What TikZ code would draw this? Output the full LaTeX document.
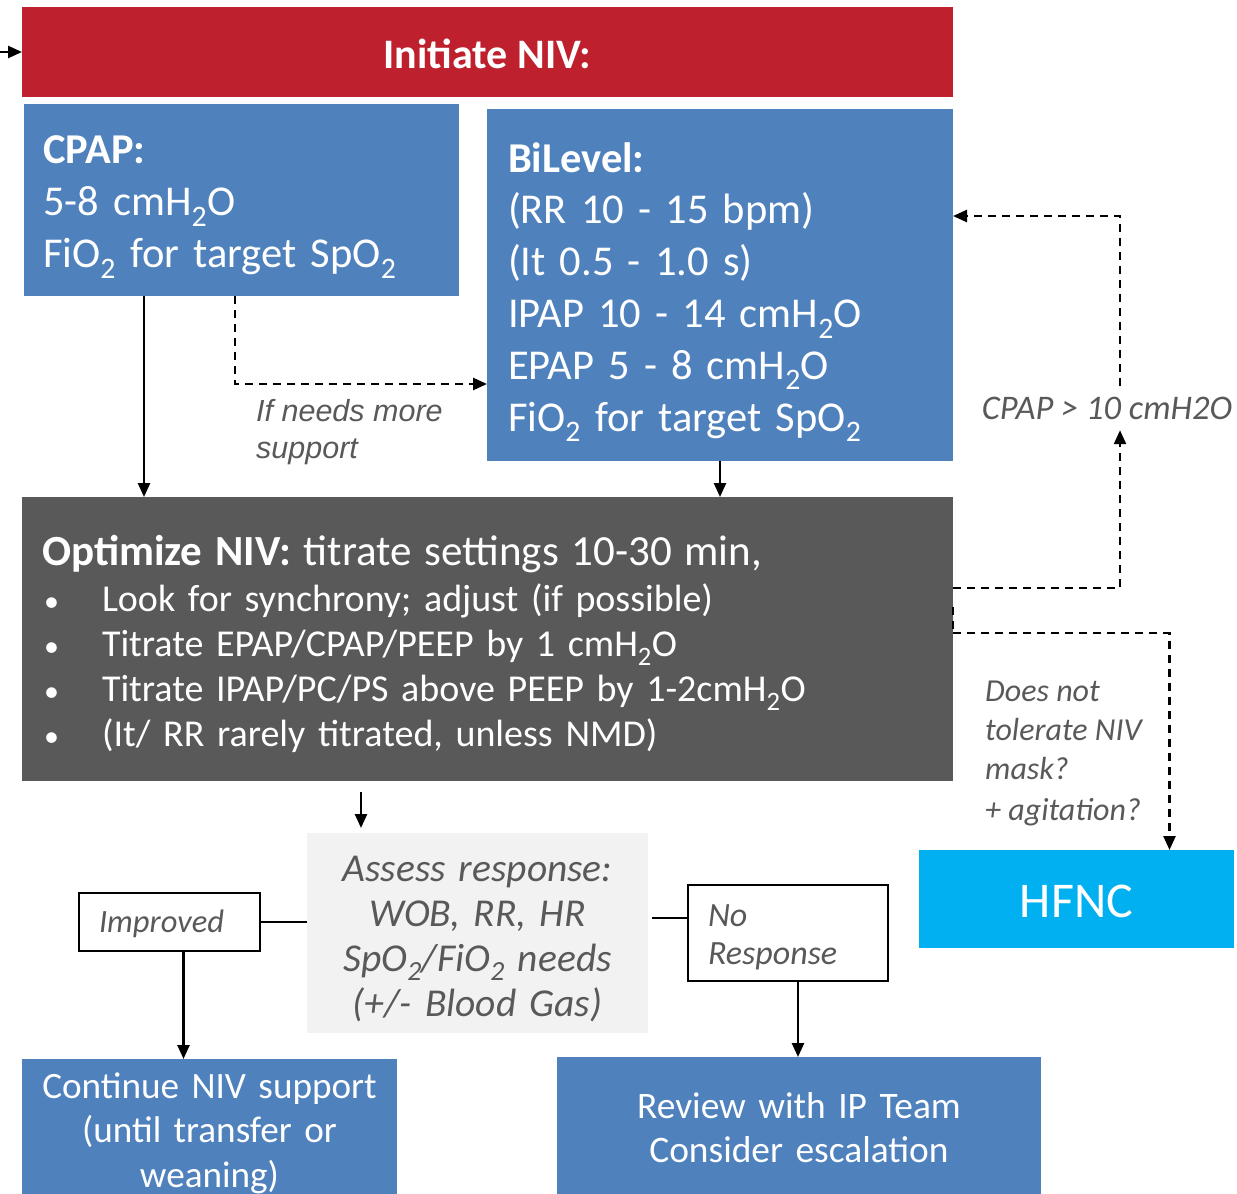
\documentclass[tikz,border=0pt]{standalone}
\usepackage{fontspec}
\setmainfont{Carlito}
\newfontfamily\arialfont{Liberation Sans}
\usetikzlibrary{arrows.meta}

\definecolor{nivred}{RGB}{190,32,45}
\definecolor{nivblue}{RGB}{79,129,189}
\definecolor{nivdark}{RGB}{89,89,89}
\definecolor{nivcyan}{RGB}{0,176,240}
\definecolor{nivlight}{RGB}{242,242,242}
\definecolor{labelgray}{RGB}{89,89,89}

\newcommand{\sub}[1]{\textsubscript{#1}}
\newcommand{\bulletitem}{\hspace*{2pt}\makebox[58pt][l]{\fontsize{30}{30}\selectfont\textbullet}}

\tikzset{
  boxbase/.style={rectangle, inner sep=0pt, outer sep=0pt, anchor=north west},
  bluebox/.style={boxbase, fill=nivblue},
  boxtext/.style={inner sep=0pt, anchor=center},
  conn/.style={line width=2.5pt, draw=black},
  arr/.style={conn, -{Triangle[length=14pt,width=12pt]}},
  darr/.style={conn, dash pattern=on 8pt off 6pt, -{Triangle[length=14pt,width=12pt]}},
  dline/.style={conn, dash pattern=on 8pt off 6pt},
  framebox/.style={boxbase, draw=black, line width=2pt, fill=white},
  lbl/.style={text=labelgray, inner sep=0pt, align=left, anchor=north west},
}

\begin{document}
\begin{tikzpicture}[x=1pt,y=-1pt]
\useasboundingbox (0,0) rectangle (1237,1194);

% ---- Boxes ----
\node[boxbase, fill=nivred, minimum width=931pt, minimum height=90pt] (init) at (22,7) {};
\node[bluebox, minimum width=435pt, minimum height=192pt] (cpap) at (24,104) {};
\node[bluebox, minimum width=466pt, minimum height=352pt] (bilevel) at (487,109) {};
\node[boxbase, fill=nivdark, minimum width=931pt, minimum height=284pt] (opt) at (22,497) {};
\node[boxbase, fill=nivlight, minimum width=341pt, minimum height=200pt] (assess) at (307,833) {};
\node[framebox, minimum width=181pt, minimum height=58pt] (improved) at (79,893) {};
\node[framebox, minimum width=200pt, minimum height=96pt] (noresp) at (688,885) {};
\node[bluebox, minimum width=375pt, minimum height=142pt] (cont) at (22,1059) {};
\node[bluebox, minimum width=484pt, minimum height=137pt] (review) at (557,1057) {};
\node[boxbase, fill=nivcyan, minimum width=315pt, minimum height=98pt] (hfnc) at (919,850) {};

% ---- Box texts ----
\node[boxtext, text=white, font=\fontsize{42}{48}\selectfont\bfseries]
  (inittxt) at ([yshift=-2pt]init.center) {Initiate NIV:};

\node[boxtext, text=white, text width=397pt, align=left, font=\fontsize{42.5}{52}\selectfont]
  (cpaptxt) at ([yshift=-7pt]cpap.center)
  {\textbf{CPAP:}\\5-8 cmH\sub{2}O\\FiO\sub{2} for target SpO\sub{2}};

\node[boxtext, text=white, text width=424pt, align=left, font=\fontsize{42.5}{51.8}\selectfont]
  (biltxt) at ([yshift=-7pt]bilevel.center)
  {\textbf{BiLevel:}\\(RR 10 - 15 bpm)\\(It 0.5 - 1.0 s)\\IPAP 10 - 14 cmH\sub{2}O\\EPAP 5 - 8 cmH\sub{2}O\\FiO\sub{2} for target SpO\sub{2}};

\node[boxtext, text=white, text width=891pt, align=left, font=\fontsize{38}{45}\selectfont]
  (opttxt) at ([yshift=-5pt]opt.center)
  {{\fontsize{43}{45}\selectfont\textbf{Optimize NIV:} titrate settings 10-30 min,}\\[1pt]
   \bulletitem Look for synchrony; adjust (if possible)\\
   \bulletitem Titrate EPAP/CPAP/PEEP by 1 cmH\sub{2}O\\
   \bulletitem Titrate IPAP/PC/PS above PEEP by 1-2cmH\sub{2}O\\
   \bulletitem (It/ RR rarely titrated, unless NMD)};

\node[boxtext, text=labelgray, text width=341pt, align=center, font=\fontsize{39.5}{45}\selectfont\itshape]
  (asstxt) at ([yshift=-6pt]assess.center)
  {Assess response:\\WOB, RR, HR\\SpO\sub{2}/FiO\sub{2} needs\\(+/- Blood Gas)};

\node[boxtext, text=labelgray, text width=141pt, align=left, font=\fontsize{32.5}{38}\selectfont\itshape]
  (imptxt) at ([yshift=-2pt]improved.center) {Improved};
\node[boxtext, text=labelgray, text width=160pt, align=left, font=\fontsize{34}{38}\selectfont\itshape]
  (nrtxt) at ([yshift=-4pt]noresp.center) {No\\Response};

\node[boxtext, text=white, text width=375pt, align=center, font=\fontsize{37.2}{44.5}\selectfont]
  (conttxt) at ([yshift=-3pt]cont.center)
  {Continue NIV support\\(until transfer or\\weaning)};
\node[boxtext, text=white, text width=484pt, align=center, font=\fontsize{37.4}{44}\selectfont]
  (revtxt) at ([yshift=-2pt]review.center)
  {Review with IP Team\\Consider escalation};
\node[boxtext, text=white, font=\fontsize{50}{56}\selectfont]
  (hfnctxt) at ([yshift=-2pt]hfnc.center) {HFNC};

% ---- Connector labels ----
\node[lbl, font=\fontsize{30.5}{37}\selectfont\arialfont\itshape] (morelbl) at (256,399) {If needs more\\support};
\node[anchor=center, inner sep=0pt, minimum height=44pt, text=labelgray,
      font=\fontsize{34.5}{40}\selectfont\itshape] (cpaplbl) at (1107,408) {CPAP > 10 cmH2O};
\node[lbl, font=\fontsize{32}{39}\selectfont\itshape] (tollbl) at (985,681)
  {Does not\\tolerate NIV\\mask?\\[2pt]+ agitation?};

% ---- Connectors ----
\coordinate (entry) at (0,52);
\draw[arr] (entry) -- (init.west);

% CPAP -> Optimize, CPAP -> BiLevel
\coordinate (c1) at ([xshift=120pt]cpap.south west);
\draw[arr] (c1) -- (c1 |- opt.north);
\coordinate (c2) at ([xshift=211pt]cpap.south west);
\coordinate (b0) at ([yshift=-99pt]bilevel.west);
\draw[darr] (c2) |- (b0);

% BiLevel -> Optimize
\coordinate (b1) at ([xshift=233pt]bilevel.south west);
\draw[arr] (b1) -- (b1 |- opt.north);

% Optimize -> BiLevel when CPAP > 10
\coordinate (o1) at ([yshift=51pt]opt.east);
\coordinate (l1) at ([xshift=13pt]cpaplbl.south);
\coordinate (l2) at ([xshift=13pt]cpaplbl.north);
\coordinate (b2) at ([yshift=69pt]bilevel.east);
\draw[darr] (o1) -| (l1);
\draw[darr] (l2) |- (b2);

% Optimize -> HFNC
\coordinate (o2) at ([yshift=32pt]opt.east);
\coordinate (o3) at ([yshift=6pt]opt.east);
\coordinate (h1) at ([xshift=93pt]hfnc.north);
\draw[dline] (o2) -- (o3);
\draw[darr] (o3) -| (h1);

% Optimize -> Assess
\coordinate (a0) at ([xshift=339pt,yshift=-11pt]opt.south west);
\draw[arr] (a0) -- ([xshift=54pt,yshift=5pt]assess.north west);

% Assess -> outcomes
\draw[conn] (improved.east) -- (improved.east -| assess.west);
\coordinate (i1) at ([xshift=14pt]improved.south);
\draw[arr] (i1) -- (i1 |- cont.north);
\coordinate (n0) at ([yshift=15pt]noresp.west);
\coordinate (a1) at ([xshift=4pt]assess.east);
\draw[conn] (a1 |- n0) -- (n0);
\coordinate (n1) at ([xshift=10pt]noresp.south);
\draw[arr] (n1) -- (n1 |- review.north);
\end{tikzpicture}
\end{document}
